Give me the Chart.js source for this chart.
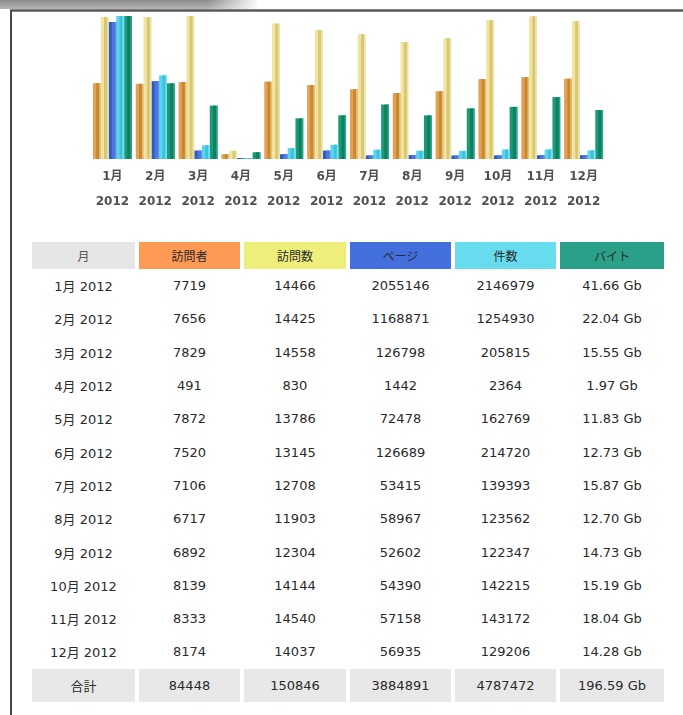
<!DOCTYPE html>
<html>
<head>
<meta charset="utf-8">
<script src="https://cdn.jsdelivr.net/npm/chart.js@4/dist/chart.umd.min.js"></script>
<style>
  html, body { margin: 0; padding: 0; background: #fff; }
  body { width: 683px; height: 715px; position: relative; overflow: hidden;
         font-family: "DejaVu Sans", "Noto Sans CJK JP", sans-serif; }
  #band { position: absolute; left: 0; top: 0; width: 260px; height: 9px;
          background: linear-gradient(#8c8c8c, #b4b4b4);
          -webkit-mask-image: linear-gradient(to right, #000 80%, transparent);
          mask-image: linear-gradient(to right, #000 80%, transparent); }
  #frameTop { position: absolute; left: 10px; top: 9px; width: 673px; height: 3px;
              background: linear-gradient(#9a9a9a, #555, #9a9a9a); }
  #frameLeft { position: absolute; left: 10px; top: 10px; width: 2px; height: 705px; background: #4a4a4a; }
  #chart { position: absolute; left: 0; top: 0; }
  table { position: absolute; left: 28px; top: 242px; border-collapse: separate;
          border-spacing: 4px 0; table-layout: fixed; }
  th { height: 27px; padding: 0; font-weight: normal; font-size: 12px; color: #2a2a2a;
       font-family: "Noto Sans CJK JP", sans-serif; }
  td { height: 33.3px; padding: 0; text-align: center; font-size: 13px; color: #2a2a2a; }
  tr.total td { background: #e8e8e8; }
</style>
</head>
<body>
<div id="band"></div>
<div id="frameTop"></div>
<div id="frameLeft"></div>
<canvas id="chart" width="683" height="225"></canvas>
<table id="stats">
  <colgroup>
    <col style="width:103px"><col style="width:101px"><col style="width:102px">
    <col style="width:101px"><col style="width:101px"><col style="width:104px">
  </colgroup>
  <thead><tr id="head"></tr></thead>
  <tbody id="body"></tbody>
</table>
<script>
// Monthly traffic summary for 2012
const months = ["1月", "2月", "3月", "4月", "5月", "6月", "7月", "8月", "9月", "10月", "11月", "12月"];
const year = "2012";
const visitors = [7719, 7656, 7829, 491, 7872, 7520, 7106, 6717, 6892, 8139, 8333, 8174];
const visits = [14466, 14425, 14558, 830, 13786, 13145, 12708, 11903, 12304, 14144, 14540, 14037];
const pages = [2055146, 1168871, 126798, 1442, 72478, 126689, 53415, 58967, 52602, 54390, 57158, 56935];
const hits = [2146979, 1254930, 205815, 2364, 162769, 214720, 139393, 123562, 122347, 142215, 143172, 129206];
const bytesGb = [41.66, 22.04, 15.55, 1.97, 11.83, 12.73, 15.87, 12.70, 14.73, 15.19, 18.04, 14.28];
const totals = ["84448", "150846", "3884891", "4787472", "196.59 Gb"];
const headers = ["月", "訪問者", "訪問数", "ページ", "件数", "バイト"];
const headerColors = ["#e6e6e6", "#ff9a55", "#eeee7a", "#4470dd", "#66dcee", "#2aa088"];
const totalLabel = "合計";

// Stripe drawn inside each bar for the embossed look
const barShade = {
  id: 'barShade',
  afterDatasetsDraw(chart) {
    const c = chart.ctx;
    chart.data.datasets.forEach((ds, i) => {
      const meta = chart.getDatasetMeta(i);
      meta.data.forEach(el => {
        const p = el.getProps(['x', 'y', 'base', 'width'], true);
        const left = p.x - p.width / 2;
        const top = Math.min(p.y, p.base), h = Math.abs(p.base - p.y);
        c.save();
        c.fillStyle = ds.shade;
        c.fillRect(left + p.width * 0.42, top, p.width * 0.38, h);
        c.fillStyle = ds.edge;
        c.fillRect(left + p.width * 0.82, top, p.width * 0.18, h);
        c.restore();
      });
    });
  }
};

const mkSet = (label, data, axis, color, shade, edge) => ({
  label, data, yAxisID: axis, backgroundColor: color, shade, edge,
  borderWidth: 0, barPercentage: 1, categoryPercentage: 0.91, minBarLength: 1
});

new Chart(document.getElementById('chart'), {
  type: 'bar',
  data: {
    labels: months.map(m => [m, year]),
    datasets: [
      mkSet(headers[1], visitors, 'yv', '#e2a256', '#c8882e', '#e9c27a'),
      mkSet(headers[2], visits, 'yv', '#efe4a2', '#d8c672', '#ece2a8'),
      mkSet(headers[3], pages, 'yp', '#2e5cc8', '#4a78dc', '#6a94ea'),
      mkSet(headers[4], hits, 'yp', '#5ad6ec', '#3cc2de', '#7ae0f0'),
      mkSet(headers[5], bytesGb, 'yb', '#1a9a78', '#0f7f60', '#2aa486')
    ]
  },
  options: {
    responsive: false,
    animation: false,
    layout: { padding: { left: 91, right: 78, top: 16, bottom: 0 } },
    plugins: { legend: { display: false }, tooltip: { enabled: false } },
    scales: {
      x: {
        grid: { display: false, drawTicks: false },
        border: { display: false },
        ticks: { color: '#505050', padding: 6, maxRotation: 0, autoSkip: false,
                 font: { family: 'DejaVu Sans, Noto Sans CJK JP', size: 12, weight: 'bold', lineHeight: 2.05 } },
        afterFit(scale) { scale.height = 66; }
      },
      yv: { display: false, min: 0, max: Math.max(...visits) },
      yp: { display: false, min: 0, max: Math.max(...hits) },
      yb: { display: false, min: 0, max: Math.max(...bytesGb) }
    }
  },
  plugins: [barShade]
});

// Table of the same figures
const head = document.getElementById('head');
headers.forEach((h, i) => {
  const th = document.createElement('th');
  th.textContent = h;
  th.style.background = headerColors[i];
  if (i === 0) th.style.color = '#555';
  head.appendChild(th);
});
const body = document.getElementById('body');
months.forEach((m, i) => {
  const tr = document.createElement('tr');
  [m + ' ' + year, visitors[i], visits[i], pages[i], hits[i], bytesGb[i].toFixed(2) + ' Gb']
    .forEach(v => { const td = document.createElement('td'); td.textContent = v; tr.appendChild(td); });
  body.appendChild(tr);
});
const tr = document.createElement('tr');
tr.className = 'total';
[totalLabel, ...totals].forEach(v => { const td = document.createElement('td'); td.textContent = v; tr.appendChild(td); });
body.appendChild(tr);
</script>
</body>
</html>
